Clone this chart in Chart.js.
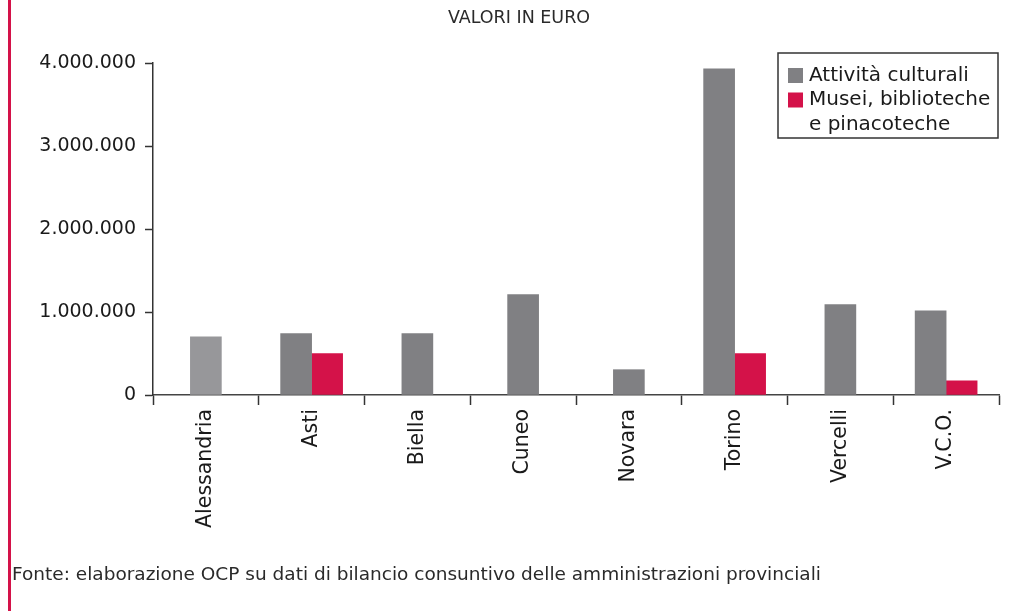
<!DOCTYPE html>
<html>
<head>
<meta charset="utf-8">
<script src="https://cdn.jsdelivr.net/npm/chart.js@4/dist/chart.umd.min.js"></script>
<style>
  html, body { margin: 0; padding: 0; background: #fff; }
  #wrap { width: 1025px; height: 611px; position: relative; }
</style>
</head>
<body>
<div id="wrap"><canvas id="chart" width="1025" height="611"></canvas></div>
<script>
// province
const categories = ['Alessandria', 'Asti', 'Biella', 'Cuneo', 'Novara', 'Torino', 'Vercelli', 'V.C.O.'];
// spesa per attività culturali (euro)
const attivitaCulturali = [700000, 740000, 740000, 1210000, 305000, 3930000, 1090000, 1015000];
// spesa per musei, biblioteche e pinacoteche (euro) - null dove non presente
const museiBiblioteche = [null, 500000, null, null, null, 500000, null, 172000];
const seriesNames = ['Attività culturali', ['Musei, biblioteche', 'e pinacoteche']];
const yTicks = [0, 1000000, 2000000, 3000000, 4000000];

const FONT = 'DejaVu Sans';
const GREY = '#808083';
const GREY_LIGHT = '#97979a';
const RED = '#d41249';

function formatEuro(v) {
    return String(v).replace(/\B(?=(\d{3})+(?!\d))/g, '.');
}

// decorazioni: barra rossa a sinistra, titolo, fonte e legenda in riquadro
const decorations = {
    id: 'decorations',
    beforeDraw(chart) {
        const c = chart.ctx;
        c.save();
        c.fillStyle = '#fff';
        c.fillRect(0, 0, chart.width, chart.height);
        c.fillStyle = RED;
        c.fillRect(8, 0, 3, chart.height);
        c.restore();
    },
    afterDraw(chart) {
        const c = chart.ctx;
        c.save();
        c.fillStyle = '#2a2a2a';
        c.font = '17.5px ' + FONT;
        c.textAlign = 'center';
        c.textBaseline = 'alphabetic';
        c.fillText('VALORI IN EURO', 519, 23);

        c.textAlign = 'left';
        c.font = '18.5px ' + FONT;
        c.fillText('Fonte: elaborazione OCP su dati di bilancio consuntivo delle amministrazioni provinciali', 12, 580);

        // legenda
        const bx = 778, by = 53, bw = 220, bh = 85;
        c.strokeStyle = '#333';
        c.lineWidth = 1.5;
        c.strokeRect(bx, by, bw, bh);
        c.font = '20px ' + FONT;
        c.textBaseline = 'middle';
        const ds = chart.data.datasets;
        let y = 75.5;
        ds.forEach((d) => {
            const swatch = Array.isArray(d.backgroundColor) ? d.backgroundColor[1] : d.backgroundColor;
            c.fillStyle = swatch;
            c.fillRect(788, y - 7.5, 15, 15);
            c.fillStyle = '#1a1a1a';
            const lines = Array.isArray(d.label) ? d.label : [d.label];
            lines.forEach((t) => {
                c.fillText(t, 809, y);
                y += 24.5;
            });
        });
        c.restore();
    }
};

const ctx = document.getElementById('chart').getContext('2d');
new Chart(ctx, {
    type: 'bar',
    data: {
        labels: categories,
        datasets: [
            {
                label: seriesNames[0],
                data: attivitaCulturali,
                backgroundColor: categories.map((c, i) => i === 0 ? GREY_LIGHT : GREY),
                barThickness: 31,
                skipNull: true
            },
            {
                label: seriesNames[1],
                data: museiBiblioteche,
                backgroundColor: RED,
                barThickness: 31,
                skipNull: true
            }
        ]
    },
    options: {
        responsive: false,
        animation: false,
        layout: { padding: { left: 0, right: 26, top: 63, bottom: 0 } },
        plugins: {
            legend: { display: false },
            tooltip: { enabled: false },
            title: { display: false }
        },
        scales: {
            x: {
                z: 1,
                grid: {
                    offset: true,
                    drawOnChartArea: false,
                    drawTicks: true,
                    tickLength: 10,
                    tickColor: '#333',
                    tickWidth: 1.5
                },
                border: { display: true, color: '#444', width: 1.5 },
                ticks: {
                    color: '#1a1a1a',
                    font: { family: FONT, size: 20.5 },
                    maxRotation: 90,
                    minRotation: 90,
                    padding: 4,
                    autoSkip: false
                },
                afterFit(scale) { scale.height = 216; }
            },
            y: {
                z: 1,
                min: 0,
                max: 4000000,
                afterBuildTicks(scale) { scale.ticks = yTicks.map(v => ({ value: v })); },
                grid: {
                    drawOnChartArea: false,
                    drawTicks: true,
                    tickLength: 8,
                    tickColor: '#333',
                    tickWidth: 1.5
                },
                border: { display: true, color: '#333', width: 1.5 },
                ticks: {
                    color: '#1a1a1a',
                    font: { family: FONT, size: 19 },
                    padding: 9,
                    callback: (v) => formatEuro(v)
                },
                afterFit(scale) { scale.width = 153; }
            }
        }
    },
    plugins: [decorations]
});
</script>
</body>
</html>
